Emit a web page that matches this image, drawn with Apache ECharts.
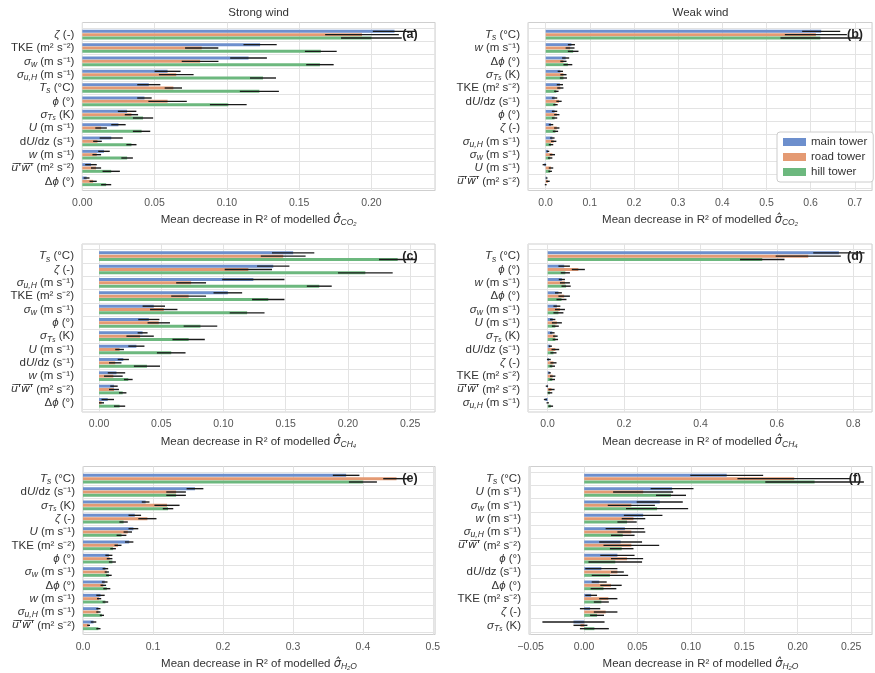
<!DOCTYPE html>
<html><head><meta charset="utf-8">
<script src="https://cdn.jsdelivr.net/npm/echarts@6/dist/echarts.min.js"></script>
<style>html,body{margin:0;padding:0;background:#fff}#c{width:875px;height:673px}</style>
</head><body><div id="c"></div>
<script>
const towers = ['main tower', 'road tower', 'hill tower'];
const towerColors = ['#6d8fcd', '#e49a73', '#6cb87e'];

// ---- (a) strong wind, CO2
const catsA = ['zeta','TKE','sw','suH','Ts','phi','sTs','U','dUdz','w','uw','dphi'];
const meanA_main = [0.216,0.123,0.115,0.059,0.046,0.043,0.031,0.025,0.020,0.015,0.006,0.003];
const errA_main  = [0.015,0.0115,0.0127,0.009,0.008,0.005,0.0064,0.005,0.008,0.004,0.004,0.002];
const meanA_road = [0.1935,0.0826,0.0815,0.065,0.063,0.059,0.034,0.013,0.0105,0.010,0.0095,0.0075];
const errA_road  = [0.0255,0.0115,0.0127,0.012,0.006,0.0133,0.0046,0.004,0.003,0.003,0.0035,0.0025];
const meanA_hill = [0.200,0.165,0.1644,0.125,0.1225,0.101,0.042,0.041,0.034,0.031,0.020,0.0165];
const errA_hill  = [0.021,0.011,0.0095,0.009,0.0135,0.0127,0.007,0.006,0.0035,0.004,0.006,0.0035];

// ---- (b) weak wind, CO2
const catsB = ['Ts','w','dphi','sTs','TKE','dUdz','phi','zeta','suH','sw','U','uw'];
const meanB_main = [0.622,0.058,0.045,0.033,0.032,0.020,0.020,0.012,0.015,0.005,-0.003,0.002];
const errB_main  = [0.043,0.008,0.008,0.006,0.007,0.006,0.006,0.005,0.005,0.003,0.004,0.002];
const meanB_road = [0.61,0.055,0.040,0.040,0.033,0.030,0.025,0.025,0.018,0.015,0.012,0.005];
const errB_road  = [0.07,0.010,0.007,0.007,0.007,0.006,0.006,0.006,0.006,0.006,0.005,0.004];
const meanB_hill = [0.62,0.062,0.050,0.040,0.024,0.022,0.020,0.022,0.012,0.010,0.010,0.000];
const errB_hill  = [0.09,0.012,0.010,0.008,0.005,0.005,0.006,0.006,0.005,0.005,0.004,0.002];

// ---- (c) strong wind, CH4
const catsC = ['Ts','zeta','suH','TKE','sw','phi','sTs','U','dUdz','w','uw','dphi'];
const meanC_main = [0.156,0.140,0.124,0.1035,0.044,0.040,0.035,0.030,0.0195,0.014,0.012,0.007];
const errC_main  = [0.017,0.013,0.025,0.0115,0.009,0.0085,0.004,0.0065,0.0045,0.007,0.003,0.005];
const meanC_road = [0.148,0.120,0.074,0.072,0.052,0.048,0.033,0.0165,0.013,0.0115,0.012,0.002];
const errC_road  = [0.018,0.019,0.012,0.014,0.011,0.009,0.011,0.0035,0.005,0.0075,0.004,0.002];
const meanC_hill = [0.240,0.214,0.177,0.136,0.119,0.0815,0.072,0.058,0.0385,0.0235,0.019,0.0165];
const errC_hill  = [0.015,0.022,0.010,0.013,0.014,0.0135,0.013,0.0115,0.0105,0.0035,0.003,0.0045];

// ---- (d) weak wind, CH4
const catsD = ['Ts','phi','w','dphi','sw','U','sTs','dUdz','zeta','TKE','uw','suH'];
const meanD_main = [0.76,0.043,0.037,0.028,0.024,0.013,0.012,0.007,0.003,0.005,-0.002,-0.006];
const errD_main  = [0.067,0.015,0.008,0.009,0.009,0.007,0.006,0.004,0.005,0.003,0.003,0.004];
const meanD_road = [0.68,0.080,0.045,0.043,0.032,0.024,0.020,0.020,0.015,0.013,0.010,0.000];
const errD_road  = [0.085,0.017,0.013,0.015,0.013,0.013,0.006,0.010,0.008,0.007,0.008,0.003];
const meanD_hill = [0.56,0.046,0.048,0.036,0.028,0.020,0.020,0.015,0.012,0.012,0.006,0.008];
const errD_hill  = [0.058,0.012,0.012,0.013,0.013,0.009,0.007,0.008,0.007,0.007,0.006,0.006];

// ---- (e) strong wind, H2O
const catsE = ['Ts','dUdz','sTs','zeta','U','TKE','phi','sw','dphi','w','suH','uw'];
const meanE_main = [0.376,0.160,0.0895,0.074,0.072,0.066,0.037,0.032,0.031,0.025,0.022,0.015];
const errE_main  = [0.019,0.012,0.0055,0.009,0.007,0.006,0.005,0.004,0.004,0.006,0.003,0.004];
const meanE_road = [0.448,0.133,0.120,0.092,0.064,0.050,0.038,0.034,0.029,0.023,0.022,0.008];
const errE_road  = [0.019,0.014,0.018,0.013,0.006,0.005,0.004,0.003,0.004,0.003,0.003,0.002];
const meanE_hill = [0.400,0.133,0.1215,0.058,0.055,0.043,0.042,0.037,0.034,0.032,0.027,0.022];
const errE_hill  = [0.020,0.014,0.0075,0.006,0.007,0.004,0.005,0.004,0.005,0.004,0.003,0.003];

// ---- (f) weak wind, H2O
const catsF = ['Ts','U','sw','w','suH','uw','phi','dUdz','dphi','TKE','zeta','sTs'];
const meanF_main = [0.133,0.082,0.0705,0.055,0.038,0.034,0.031,0.016,0.014,0.0065,0.0055,-0.010];
const errF_main  = [0.034,0.020,0.0215,0.018,0.018,0.020,0.016,0.015,0.007,0.0055,0.0095,0.029];
const meanF_road = [0.196,0.055,0.044,0.046,0.044,0.044,0.040,0.031,0.025,0.0225,0.020,-0.0035];
const errF_road  = [0.053,0.028,0.022,0.011,0.013,0.026,0.015,0.006,0.010,0.0085,0.011,0.0065];
const meanF_hill = [0.215,0.081,0.068,0.040,0.036,0.035,0.029,0.024,0.018,0.016,0.012,0.0095];
const errF_hill  = [0.046,0.014,0.029,0.009,0.011,0.011,0.025,0.017,0.012,0.007,0.0065,0.0135];

// category tick labels (rich text)
const labelText = {
  zeta: '{i|ζ} (-)',
  TKE: 'TKE (m² s⁻²)',
  sw: '{i|σ}{s|w} (m s⁻¹)',
  suH: '{i|σ}{s|u,H} (m s⁻¹)',
  Ts: '{i|T}{s|s} (°C)',
  phi: '{i|ϕ} (°)',
  sTs: '{i|σ}{s|T}{ss|s} (K)',
  U: "{i|U} (m s⁻¹)",
  dUdz: 'd{i|U}/dz (s⁻¹)',
  w: '{i|w} (m s⁻¹)',
  uw: "{ov|u\u0305'\u0305w\u0305'\u0305} (m² s⁻²)",
  dphi: 'Δ{i|ϕ} (°)'
};
const columnTitles = ['Strong wind', 'Weak wind'];
const gasSubs = ['CO₂', 'CO₂', 'CH₄', 'CH₄', 'H₂O', 'H₂O'];
const letters = ['(a)', '(b)', '(c)', '(d)', '(e)', '(f)'];

const FONT = '"Liberation Sans", Arial, sans-serif';
const H = 168, INNER_H = 160;

const panels = [
  {cats: catsA, means: [meanA_main, meanA_road, meanA_hill], errs: [errA_main, errA_road, errA_hill],
   left: 82.3, width: 352.7, top: 22.5, innerTop: 28, min: 0, max: 0.244, split: 5, step: 0.05, dec: 2},
  {cats: catsB, means: [meanB_main, meanB_road, meanB_hill], errs: [errB_main, errB_road, errB_hill],
   left: 528, width: 345, top: 22.5, innerTop: 28, min: -0.04, max: 0.739, split: 8, step: 0.1, dec: 1},
  {cats: catsC, means: [meanC_main, meanC_road, meanC_hill], errs: [errC_main, errC_road, errC_hill],
   left: 82, width: 353, top: 244, innerTop: 249.5, min: -0.0137, max: 0.270, split: 6, step: 0.05, dec: 2},
  {cats: catsD, means: [meanD_main, meanD_road, meanD_hill], errs: [errD_main, errD_road, errD_hill],
   left: 528, width: 345, top: 244, innerTop: 249.5, min: -0.0514, max: 0.849, split: 5, step: 0.2, dec: 1},
  {cats: catsE, means: [meanE_main, meanE_road, meanE_hill], errs: [errE_main, errE_road, errE_hill],
   left: 83, width: 352, top: 466.5, innerTop: 472, min: 0, max: 0.503, split: 5, step: 0.1, dec: 1},
  {cats: catsF, means: [meanF_main, meanF_road, meanF_hill], errs: [errF_main, errF_road, errF_hill],
   left: 529, width: 344, top: 466.5, innerTop: 472, min: -0.0515, max: 0.2695, split: 7, step: 0.05, dec: 2}
];

const richY = {
  i: {fontStyle: 'italic', fontSize: 11.5, lineHeight: 15, color: '#333', fontFamily: FONT},
  ov: {fontStyle: 'italic', fontSize: 11, lineHeight: 15, color: '#333', fontFamily: '"DejaVu Sans"'},
  s: {fontStyle: 'italic', fontSize: 8.5, lineHeight: 9, verticalAlign: 'bottom', color: '#333', fontFamily: FONT},
  ss: {fontStyle: 'italic', fontSize: 6.5, lineHeight: 6, verticalAlign: 'bottom', color: '#333', fontFamily: FONT}
};
const richName = {
  h: {fontStyle: 'italic', fontSize: 11.5, lineHeight: 15, color: '#333', fontFamily: '"DejaVu Sans"'},
  s: {fontStyle: 'italic', fontSize: 8.5, lineHeight: 9, verticalAlign: 'bottom', color: '#333', fontFamily: FONT}
};

function fmtTick(v, p) {
  const r = v / p.step;
  if (Math.abs(r - Math.round(r)) > 1e-6) return '';
  let s = (Math.round(r) * p.step).toFixed(p.dec);
  if (/^-0\.0+$/.test(s)) s = s.slice(1);
  return s.replace('-', '−');
}

function makeRender(ti) {
  return function (params, api) {
    const v = api.value(0), ci = api.value(1), e = api.value(2);
    const band = api.size([0, 1])[1];
    const base = api.coord([0, ci]);
    const end = api.coord([v, ci]);
    const lo = api.coord([v - e, ci]);
    const hi = api.coord([v + e, ci]);
    const yc = base[1] + (ti - 1) * band * 0.25;
    const bh = band * 0.22;
    return {
      type: 'group',
      children: [
        {type: 'rect', shape: {x: Math.min(base[0], end[0]), y: yc - bh / 2, width: Math.abs(end[0] - base[0]), height: bh},
         style: {fill: towerColors[ti]}},
        {type: 'line', shape: {x1: lo[0], y1: yc, x2: hi[0], y2: yc},
         style: {stroke: '#1a1a1a', lineWidth: 1.4}}
      ]
    };
  };
}

const grids = [], xAxes = [], yAxes = [], series = [], gfx = [];
panels.forEach((p, k) => {
  const og = 2 * k, ig = 2 * k + 1;
  grids.push({left: p.left, top: p.top, width: p.width, height: H, show: true,
              borderColor: '#cfcfcf', borderWidth: 1, backgroundColor: 'transparent'});
  grids.push({left: p.left, top: p.innerTop, width: p.width, height: INNER_H, show: false});
  xAxes.push({
    gridIndex: og, type: 'value', min: p.min, max: p.max, splitNumber: p.split,
    axisLine: {show: false}, axisTick: {show: false},
    splitLine: {show: true, lineStyle: {color: '#e3e3e3', width: 1}},
    axisLabel: {margin: 7, fontSize: 10.5, color: '#555', fontFamily: FONT, formatter: v => fmtTick(v, p)},
    name: 'Mean decrease in R² of modelled {h|σ\u0302}{s|' + gasSubs[k] + '}',
    nameLocation: 'middle', nameGap: 22,
    nameTextStyle: {fontSize: 11.5, color: '#333', fontFamily: FONT, lineHeight: 15, rich: richName}
  });
  xAxes.push({gridIndex: ig, type: 'value', min: p.min, max: p.max, show: false});
  yAxes.push({gridIndex: og, type: 'value', min: 0, max: 1, show: false});
  yAxes.push({
    gridIndex: ig, type: 'category', inverse: true, data: p.cats,
    axisLine: {show: false}, axisTick: {show: false},
    splitLine: {show: true, interval: 0, lineStyle: {color: '#e3e3e3', width: 1}},
    axisLabel: {interval: 0, margin: 8, fontSize: 11.5, color: '#333', fontFamily: FONT, lineHeight: 15,
                formatter: c => labelText[c], rich: richY}
  });
  towers.forEach((t, ti) => {
    series.push({
      type: 'custom', name: t, xAxisIndex: ig, yAxisIndex: ig,
      itemStyle: {color: towerColors[ti]},
      data: p.cats.map((c, ci) => [p.means[ti][ci], ci, p.errs[ti][ci]]),
      encode: {x: 0, y: 1},
      renderItem: makeRender(ti)
    });
  });
  const right = p.left + p.width;
  gfx.push({type: 'text', x: right - (k % 2 === 0 ? 25 : 18), y: p.innerTop + INNER_H / 24,
            style: {text: letters[k], fontSize: 12.5, fontWeight: 'bold', fill: '#222', fontFamily: FONT,
                    align: 'center', verticalAlign: 'middle'}, z: 100});
});
[0, 1].forEach(c => {
  const p = panels[c];
  gfx.push({type: 'text', x: p.left + p.width / 2, y: 13,
            style: {text: columnTitles[c], fontSize: 11.5, fill: '#333', fontFamily: FONT,
                    align: 'center', verticalAlign: 'middle'}});
});

const chart = echarts.init(document.getElementById('c'), null, {renderer: 'canvas', width: 875, height: 673});
chart.setOption({
  backgroundColor: '#ffffff',
  animation: false,
  textStyle: {fontFamily: FONT},
  grid: grids, xAxis: xAxes, yAxis: yAxes, series: series,
  legend: {
    data: towers, orient: 'vertical', left: 777, top: 132, icon: 'rect',
    itemWidth: 23, itemHeight: 8, itemGap: 3, selectedMode: false,
    textStyle: {fontSize: 11.5, color: '#333', fontFamily: FONT},
    backgroundColor: '#ffffff', borderColor: '#cccccc', borderWidth: 1, borderRadius: 3,
    padding: [4, 6, 4, 6]
  },
  graphic: {elements: gfx}
});
</script>
</body></html>
